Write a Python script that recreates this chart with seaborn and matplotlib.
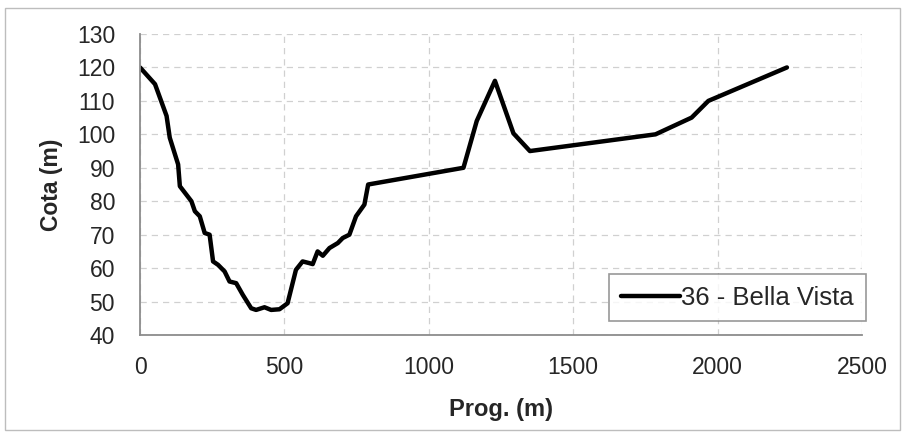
import matplotlib
matplotlib.use("Agg")
import matplotlib.pyplot as plt
import seaborn as sns
import pandas as pd
from matplotlib.ticker import MultipleLocator
from matplotlib.patches import Rectangle

# perfil - Prog. (m) vs Cota (m)
prog = [0, 52, 92, 103, 132, 138, 178, 190, 207, 224, 241, 253, 270, 293, 310,
        333, 356, 385, 402, 431, 454, 483, 511, 540, 563, 586, 598, 615, 633,
        656, 685, 702, 725, 748, 777, 790, 1120, 1166, 1229, 1293, 1350, 1785,
        1910, 1968, 2240]
cota = [120, 115, 105.5, 99, 91, 84.5, 80, 77, 75.5, 70.5, 70, 62, 61, 59, 56,
        55.5, 52, 48, 47.5, 48.3, 47.5, 47.7, 49.5, 59.5, 62, 61.5, 61.2, 65, 63.7,
        66, 67.5, 69, 70, 75.5, 79, 85, 90, 104, 116, 100.3, 95, 100,
        105, 110, 120]
serie = "36 - Bella Vista"

df = pd.DataFrame({"prog": prog, "cota": cota, "serie": serie})

sns.set_style("white")
plt.rcParams['font.family'] = ['Liberation Sans', 'DejaVu Sans']

fig = plt.figure(figsize=(9.05, 4.33), dpi=100)
ax = fig.add_axes([0.1547, 0.2263, 0.7978, 0.6952])

sns.lineplot(data=df, x="prog", y="cota", hue="serie", palette=["black"],
             sort=False, estimator=None, linewidth=3.2, ax=ax)

ax.set_xlim(0, 2500)
ax.set_ylim(40, 130)
ax.xaxis.set_major_locator(MultipleLocator(500))
ax.xaxis.set_minor_locator(MultipleLocator(100))
ax.yaxis.set_major_locator(MultipleLocator(10))

ax.grid(True, which="major", color="#d0d0d0", linestyle=(0, (5, 4)), linewidth=0.9)
for s in ["top", "right"]:
    ax.spines[s].set_visible(False)
for s in ["left", "bottom"]:
    ax.spines[s].set_color("#8c8c8c")
    ax.spines[s].set_linewidth(1.3)
ax.tick_params(axis="both", which="both", direction="out", color="#8c8c8c",
               labelsize=16.5, width=1.2)
ax.tick_params(axis="both", which="major", length=6)
ax.tick_params(axis="x", which="minor", length=6)
ax.tick_params(axis="x", pad=9)
ax.tick_params(axis="y", pad=12)

ax.set_xlabel("Prog. (m)", fontsize=17, fontweight="bold", labelpad=14)
ax.set_ylabel("Cota (m)", fontsize=16.5, fontweight="bold", labelpad=10)

leg = ax.legend(loc="lower right", bbox_to_anchor=(1.005, 0.045), fontsize=18.5,
                frameon=True, fancybox=False, edgecolor="#7f7f7f",
                handlelength=2.3, borderpad=0.45, handletextpad=0.05,
                borderaxespad=0.0)
leg.get_frame().set_linewidth(1.2)

fig.patches.append(Rectangle((0.006, 0.006), 0.988, 0.976, transform=fig.transFigure,
                             fill=False, edgecolor="#bdbdbd", linewidth=1.0))

fig.savefig("out.png", dpi=100)
